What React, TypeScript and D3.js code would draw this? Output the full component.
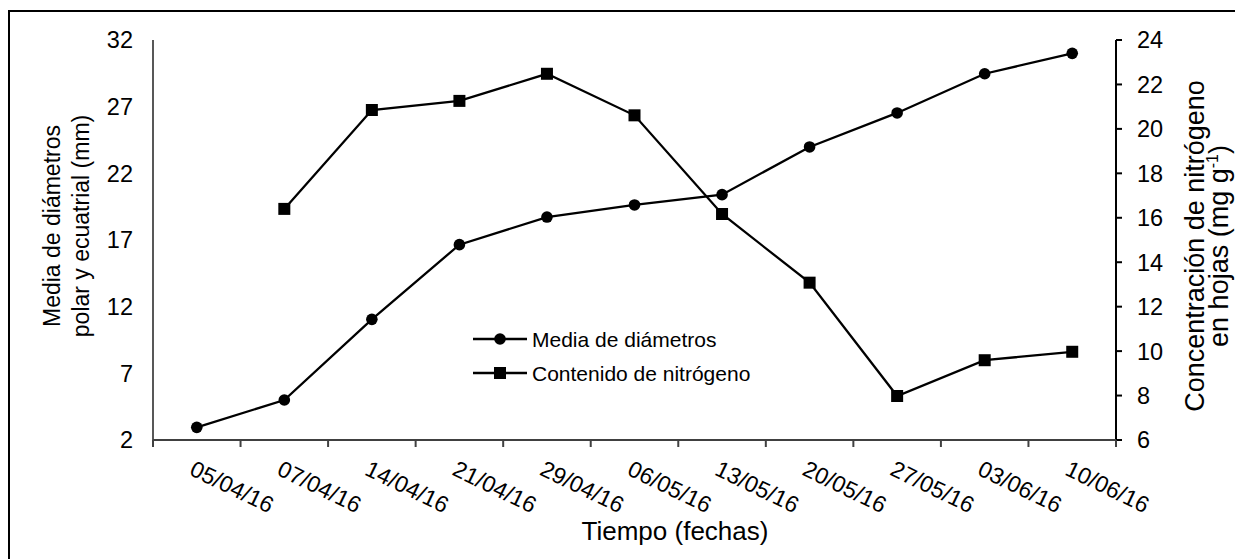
import * as d3 from 'd3';
import * as React from 'react';

const WIDTH = 1235;
const HEIGHT = 559;

const FONT = '"Liberation Sans", Arial, sans-serif';

// fechas de muestreo
const fechas = [
  '05/04/16', '07/04/16', '14/04/16', '21/04/16', '29/04/16', '06/05/16',
  '13/05/16', '20/05/16', '27/05/16', '03/06/16', '10/06/16',
];

// media de diámetros polar y ecuatorial (mm) - eje izquierdo
const diametros = [2.95, 5.0, 11.05, 16.65, 18.72, 19.63, 20.4, 23.98, 26.53, 29.47, 31.0];

// concentración de nitrógeno en hojas (mg g-1) - eje derecho
const nitrogeno: (number | null)[] = [null, 16.4, 20.85, 21.26, 22.48, 20.61, 16.17, 13.08, 7.98, 9.59, 9.97];

const ticksIzq = [2, 7, 12, 17, 22, 27, 32];
const ticksDer = [6, 8, 10, 12, 14, 16, 18, 20, 22, 24];

const margin = { left: 153, right: 1116, top: 40, bottom: 440 };

export default function App() {
  const x = d3.scaleBand<string>().domain(fechas).range([margin.left, margin.right]).padding(0);
  const yL = d3.scaleLinear().domain([2, 32]).range([margin.bottom, margin.top]);
  const yR = d3.scaleLinear().domain([6, 24]).range([margin.bottom, margin.top]);
  const cx = (d: string) => (x(d) as number) + x.bandwidth() / 2;

  const lineL = d3
    .line<number>()
    .x((d, i) => cx(fechas[i]))
    .y(d => yL(d));

  const lineR = d3
    .line<number | null>()
    .defined(d => d !== null)
    .x((d, i) => cx(fechas[i]))
    .y(d => yR(d as number));

  // límites de las marcas del eje x (entre categorías)
  const bordes = fechas.map(f => x(f) as number).concat([margin.right]);

  return (
    <svg
      width={WIDTH}
      height={HEIGHT}
      style={{ position: 'absolute', left: 0, top: 0, display: 'block', background: '#fff' }}
      fontFamily={FONT}
    >
      <rect x={9} y={11} width={1240} height={560} fill="none" stroke="#000" strokeWidth={2} />

      {/* eje izquierdo */}
      <line x1={margin.left} x2={margin.left} y1={margin.top} y2={margin.bottom} stroke="#404040" strokeWidth={1.75} />
      {ticksIzq.map(t => (
        <text key={t} x={133} y={yL(t)} dy="0.36em" textAnchor="end" fontSize={23.5}>
          {t}
        </text>
      ))}

      {/* eje derecho */}
      <line x1={margin.right} x2={margin.right} y1={margin.top} y2={margin.bottom + 7} stroke="#000" strokeWidth={2} />
      {ticksDer.map(t => (
        <g key={t}>
          <line x1={margin.right} x2={margin.right + 6} y1={yR(t)} y2={yR(t)} stroke="#000" strokeWidth={2} />
          <text x={1137} y={yR(t)} dy="0.36em" fontSize={23.5}>
            {t}
          </text>
        </g>
      ))}

      {/* eje x */}
      <line x1={margin.left} x2={margin.right} y1={margin.bottom} y2={margin.bottom} stroke="#404040" strokeWidth={2} />
      {bordes.map((b, i) => (
        <line key={i} x1={b} x2={b} y1={margin.bottom} y2={margin.bottom + 7} stroke="#404040" strokeWidth={2} />
      ))}
      {fechas.map(f => (
        <text
          key={f}
          transform={`translate(${cx(f) - 1},${459}) rotate(26)`}
          dy="0.74em"
          fontSize={23}
        >
          {f}
        </text>
      ))}

      {/* series */}
      <path d={lineL(diametros) as string} fill="none" stroke="#000" strokeWidth={2.3} />
      <path d={lineR(nitrogeno) as string} fill="none" stroke="#000" strokeWidth={2.3} />
      {diametros.map((d, i) => (
        <circle key={i} cx={cx(fechas[i])} cy={yL(d)} r={5.8} fill="#000" />
      ))}
      {nitrogeno.map((d, i) =>
        d === null ? null : (
          <rect key={i} x={cx(fechas[i]) - 6} y={yR(d) - 6} width={12} height={12} fill="#000" />
        )
      )}

      {/* leyenda */}
      <g fontSize={21}>
        <line x1={473} x2={527} y1={339} y2={339} stroke="#000" strokeWidth={2.3} />
        <circle cx={500} cy={339} r={5.8} fill="#000" />
        <text x={532} y={339} dy="0.36em">Media de diámetros</text>
        <line x1={473} x2={527} y1={373} y2={373} stroke="#000" strokeWidth={2.3} />
        <rect x={494} y={367} width={12} height={12} fill="#000" />
        <text x={532} y={373} dy="0.36em">Contenido de nitrógeno</text>
      </g>

      {/* títulos */}
      <text x={675} y={540} textAnchor="middle" fontSize={26}>
        Tiempo (fechas)
      </text>
      <g fontSize={23} textAnchor="middle">
        <text transform="translate(60,226) rotate(-90)">Media de diámetros</text>
        <text transform="translate(89,226) rotate(-90)">polar y ecuatrial (mm)</text>
      </g>
      <g fontSize={27} textAnchor="middle">
        <text transform="translate(1204,246) rotate(-90)">Concentración de nitrógeno</text>
        <text transform="translate(1228,246) rotate(-90)">
          en hojas (mg g
          <tspan fontSize={16} dy={-10}>-1</tspan>
          <tspan dy={10}>)</tspan>
        </text>
      </g>
    </svg>
  );
}
